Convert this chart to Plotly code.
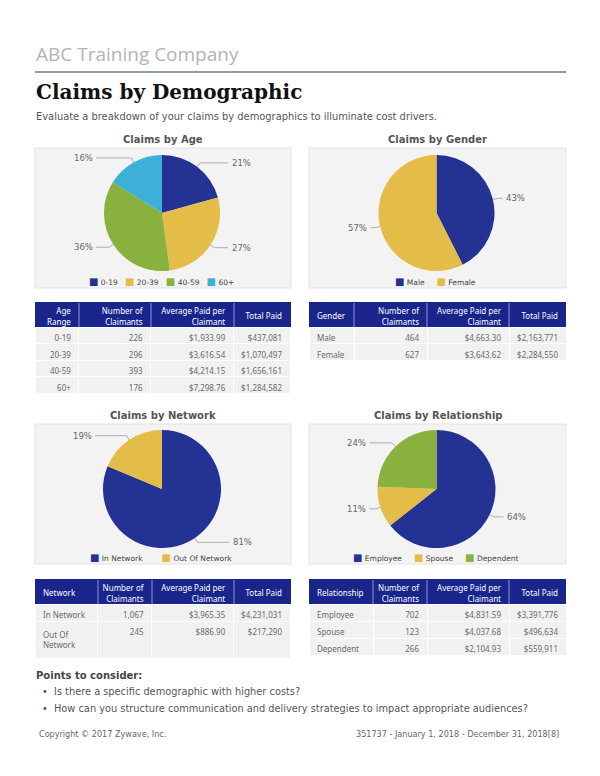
import math
import plotly.graph_objects as go

W, H = 600, 776

# ------------------------------------------------------------------ data
age_groups = ['0-19', '20-39', '40-59', '60+']
age_claimants = [226, 296, 393, 176]
age_avg_paid = [1933.99, 3616.54, 4214.15, 7298.76]
age_total_paid = [437081, 1070497, 1656161, 1284582]

genders = ['Male', 'Female']
gender_claimants = [464, 627]
gender_avg_paid = [4663.30, 3643.62]
gender_total_paid = [2163771, 2284550]

networks = ['In Network', 'Out Of Network']
network_claimants = [1067, 245]
network_avg_paid = [3965.35, 886.90]
network_total_paid = [4231031, 217290]

relationships = ['Employee', 'Spouse', 'Dependent']
relationship_claimants = [702, 123, 266]
relationship_avg_paid = [4831.59, 4037.68, 2104.93]
relationship_total_paid = [3391776, 496634, 559911]

# header text per column: (first line, second line) or a single line
common_headers = [('Number of', 'Claimants'), ('Average Paid per', 'Claimant'), ('Total Paid',)]

consider_points = [
    'Is there a specific demographic with higher costs?',
    'How can you structure communication and delivery strategies to impact appropriate audiences?',
]

# ------------------------------------------------------------------ style
NAVY, GOLD, GREEN, CYAN = '#243294', '#e3bd47', '#88b13e', '#3cb0d9'
HEAD = '#19258b'
SANS = 'DejaVu Sans'
TFONT = 'Noto Sans'
TSIZE = 8.0
NB = '\u00a0'
CLEAR = 'rgba(0,0,0,0)'
HEAD_ROWS, HEAD_ROW_H = 5, 5.5


def px(x):
    return x / W


def py(y):
    return 1 - y / H


def money2(v):
    return f'${v:,.2f}'


def money0(v):
    return f'${v:,.0f}'


def nb(s):
    return s.replace(' ', NB)


def cell_label(s):
    if len(s) > 12:
        a, b = s.rsplit(' ', 1)
        return a + '<br>' + b
    return nb(s)


def header_rows(parts):
    # thin header rows: line 1 -> row 0, single line -> row 1, line 2 -> row 2
    rows = [''] * HEAD_ROWS
    if len(parts) == 2:
        rows[0], rows[2] = nb(parts[0]), nb(parts[1])
    else:
        rows[1] = nb(parts[0])
    return rows


fig = go.Figure()
shapes, annotations = [], []


def text(x, y, t, size, color, family=SANS, xanchor='left'):
    annotations.append(dict(x=px(x), y=py(y), xref='paper', yref='paper', text=t,
                            showarrow=False, xanchor=xanchor, yanchor='middle',
                            font=dict(family=family, size=size, color=color)))


# ------------------------------------------------------------------ header
text(34, 54, 'ABC Training Company', 19, '#b3b3b3', family='Open Sans')
shapes.append(dict(type='line', xref='paper', yref='paper', x0=px(35), x1=px(566),
                   y0=py(72), y1=py(72), line=dict(color='#6a7896', width=1.5)))
text(34, 92, '<b>Claims by Demographic</b>', 20, '#111111', family='DejaVu Serif')
text(34, 116, 'Evaluate a breakdown of your claims by demographics to illuminate cost drivers.',
     9.9, '#555555')

# ------------------------------------------------------------------ pies
panels = [
    dict(title='Claims by Age', x0=35, x1=291, y0=148, y1=288, cy=213, r=58, ly=281,
         labels=age_groups, values=age_claimants, colors=[NAVY, GOLD, GREEN, CYAN], gap=3),
    dict(title='Claims by Gender', x0=309, x1=566, y0=148, y1=288, cy=213, r=58, ly=281,
         labels=genders, values=gender_claimants, colors=[NAVY, GOLD], gap=5),
    dict(title='Claims by Network', x0=35, x1=291, y0=424, y1=564, cy=489, r=59, ly=557,
         labels=networks, values=network_claimants, colors=[NAVY, GOLD], gap=8),
    dict(title='Claims by Relationship', x0=309, x1=566, y0=424, y1=564, cy=489, r=59, ly=557,
         labels=relationships, values=relationship_claimants, colors=[NAVY, GOLD, GREEN], gap=5),
]

for p in panels:
    cx = (p['x0'] + p['x1']) / 2 - 1
    cy, r = p['cy'], p['r']
    shapes.append(dict(type='rect', xref='paper', yref='paper', layer='below',
                       x0=px(p['x0']), x1=px(p['x1']), y0=py(p['y1']), y1=py(p['y0']),
                       fillcolor='#f3f3f3', line=dict(color='#e3e3e3', width=1)))
    text((p['x0'] + p['x1']) / 2, p['y0'] - 9, '<b>' + p['title'] + '</b>', 10, '#555555',
         xanchor='center')
    fig.add_trace(go.Pie(
        values=p['values'], labels=p['labels'], sort=False, direction='clockwise',
        rotation=0, textinfo='none', showlegend=False,
        marker=dict(colors=p['colors'], line=dict(width=0)),
        domain=dict(x=[px(cx - r), px(cx + r)], y=[py(cy + r), py(cy - r)]),
    ))
    total = sum(p['values'])
    cum = 0.0
    for v in p['values']:
        f = v / total
        th = 2 * math.pi * (cum + f / 2)
        cum += f
        s, c = math.sin(th), math.cos(th)
        ex, ey = cx + r * s, cy - r * c
        kx, ky = cx + (r + 5) * s, cy - (r + 5) * c
        side = 1 if s >= 0 else -1
        lx = cx + side * (r + 8)
        shapes.append(dict(type='path', xref='paper', yref='paper',
                           path=f'M {px(ex)} {py(ey)} L {px(kx)} {py(ky)} L {px(lx)} {py(ky)}',
                           line=dict(color='#9a9a9a', width=0.8)))
        text(lx + side * 1.5, ky, f'{round(100 * f)}%', 8.5, '#666666',
             xanchor='left' if side > 0 else 'right')
    sep = NB * p['gap']
    legend = sep.join(f"<span style='color:{col};font-size:10px'>■</span>{NB}{lab}"
                      for lab, col in zip(p['labels'], p['colors']))
    text((p['x0'] + p['x1']) / 2 - 2, p['ly'], legend, 7.5, '#444444', xanchor='center')

# ------------------------------------------------------------------ tables
tables = [
    dict(x0=35, x1=291, head0=302, head1=327, bottom=412,
         first=('Age', 'Range'), cats=age_groups, row=16.5,
         n=age_claimants, avg=age_avg_paid, tot=age_total_paid,
         widths=[44, 72, 83, 57], first_align='right'),
    dict(x0=309, x1=566, head0=302, head1=327, bottom=412,
         first=('Gender',), cats=genders, row=16.5,
         n=gender_claimants, avg=gender_avg_paid, tot=gender_total_paid,
         widths=[45, 73, 82, 57], first_align='left'),
    dict(x0=35, x1=291, head0=579, head1=604, bottom=668,
         first=('Network',), cats=networks, row=17,
         n=network_claimants, avg=network_avg_paid, tot=network_total_paid,
         widths=[63, 54, 82, 57], first_align='left'),
    dict(x0=309, x1=566, head0=579, head1=604, bottom=668,
         first=('Relationship',), cats=relationships, row=17,
         n=relationship_claimants, avg=relationship_avg_paid, tot=relationship_total_paid,
         widths=[64, 54, 82, 57], first_align='left'),
]

for t in tables:
    align = [t['first_align'], 'right', 'right', 'right']
    top = t['head1'] - HEAD_ROWS * HEAD_ROW_H
    # navy header band behind the (transparent) header rows
    shapes.append(dict(type='rect', xref='paper', yref='paper', layer='below',
                       x0=px(t['x0']), x1=px(t['x1']), y0=py(t['head1']), y1=py(t['head0']),
                       fillcolor=HEAD, line=dict(width=0)))
    fig.add_trace(go.Table(
        domain=dict(x=[px(t['x0']), px(t['x1'])], y=[py(t['bottom']), py(top)]),
        columnwidth=t['widths'],
        header=dict(values=[header_rows(h) for h in [t['first']] + common_headers],
                    fill_color=CLEAR, line=dict(color=CLEAR, width=0), align=align,
                    height=HEAD_ROW_H, font=dict(family=TFONT, size=TSIZE, color='white')),
        cells=dict(values=[[cell_label(c) for c in t['cats']],
                           [f'{v:,}' for v in t['n']],
                           [money2(v) for v in t['avg']],
                           [money0(v) for v in t['tot']]],
                   fill_color='#f1f1f1', line=dict(color='white', width=1), align=align,
                   height=t['row'], font=dict(family=TFONT, size=TSIZE, color='#6a6a6a')),
    ))
    # light separators between header cells
    span = t['x1'] - t['x0']
    tot_w = sum(t['widths'])
    acc = 0
    for w in t['widths'][:-1]:
        acc += w
        xb = t['x0'] + span * acc / tot_w
        shapes.append(dict(type='line', xref='paper', yref='paper', layer='above',
                           x0=px(xb), x1=px(xb), y0=py(t['head0'] + 1), y1=py(t['head1']),
                           line=dict(color='#8e9ad0', width=1)))

# ------------------------------------------------------------------ notes
text(34, 675, '<b>Points to consider:</b>', 10, '#444444')
for i, line in enumerate(consider_points):
    text(40, 691 + 17 * i, '•', 9.8, '#555555')
    text(52, 691 + 17 * i, line, 9.8, '#555555')
text(37, 734, 'Copyright © 2017 Zywave, Inc.', 8.1, '#666666')
text(561, 734, '351737 - January 1, 2018 - December 31, 2018[8]', 8.1, '#666666',
     xanchor='right')

fig.update_layout(width=W, height=H, margin=dict(l=0, r=0, t=0, b=0),
                  paper_bgcolor='white', plot_bgcolor='white',
                  shapes=shapes, annotations=annotations, showlegend=False)

fig.write_html('out.html', config={'displayModeBar': False},
               post_script="document.body.style.margin='0';")
